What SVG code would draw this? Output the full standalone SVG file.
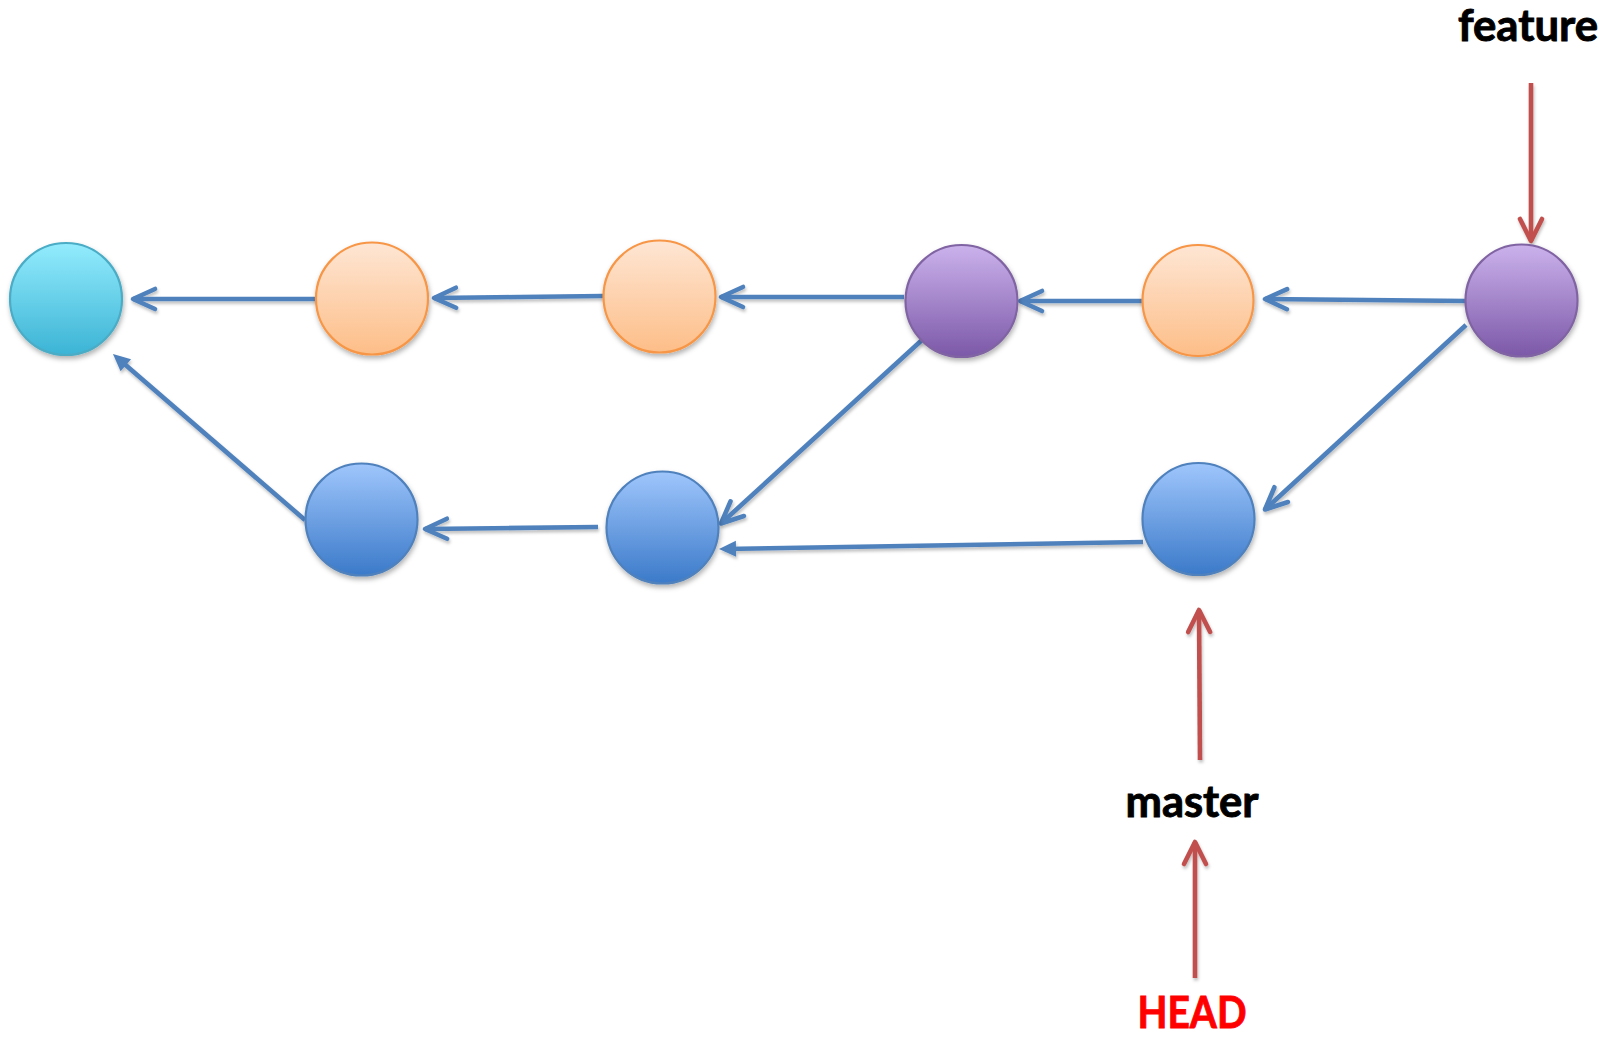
<svg xmlns="http://www.w3.org/2000/svg" width="1615" height="1037" viewBox="0 0 1615 1037">
  <style>
    .node { stroke-width: 2.2; filter: url(#shadow); }
    .cyan { fill: url(#gCyan); stroke: #4BACC6; }
    .orange { fill: url(#gOrange); stroke: #F79646; }
    .purple { fill: url(#gPurple); stroke: #8064A2; }
    .blue { fill: url(#gBlue); stroke: #4F81BD; }
    .edge { fill: none; stroke: #4F81BD; stroke-width: 4.6; stroke-linecap: butt; }
    .open { marker-end: url(#openBlue); }
    .solid { marker-end: url(#solidBlue); }
    .ref { fill: none; stroke: #C0504D; stroke-width: 4.6; marker-end: url(#openRed); }
    .label { font-family: Lato, "Open Sans", "Liberation Sans", sans-serif; font-weight: 700; font-size: 44px; text-anchor: middle; stroke-width: 0.9; }
  </style>
  <defs>
    <filter id="shadow" x="-30%" y="-30%" width="160%" height="170%">
      <feDropShadow dx="1" dy="3" stdDeviation="2.5" flood-color="#000" flood-opacity="0.3"/>
    </filter>
    <filter id="lshadow" x="-10%" y="-10%" width="120%" height="120%">
      <feDropShadow dx="1" dy="2.5" stdDeviation="1.8" flood-color="#000" flood-opacity="0.25"/>
    </filter>
    <linearGradient id="gCyan" x1="0" y1="0" x2="0" y2="1">
      <stop offset="0" stop-color="#93ECFD"/>
      <stop offset="1" stop-color="#3CB4D5"/>
    </linearGradient>
    <linearGradient id="gOrange" x1="0" y1="0" x2="0" y2="1">
      <stop offset="0" stop-color="#FEE6D4"/>
      <stop offset="1" stop-color="#FDBE88"/>
    </linearGradient>
    <linearGradient id="gPurple" x1="0" y1="0" x2="0" y2="1">
      <stop offset="0" stop-color="#CBB2EC"/>
      <stop offset="1" stop-color="#7C58A8"/>
    </linearGradient>
    <linearGradient id="gBlue" x1="0" y1="0" x2="0" y2="1">
      <stop offset="0" stop-color="#9FC6FC"/>
      <stop offset="1" stop-color="#3B7AC9"/>
    </linearGradient>
    <marker id="openBlue" markerUnits="userSpaceOnUse" orient="auto" overflow="visible" markerWidth="1" markerHeight="1" refX="0" refY="0">
      <path d="M-22,-10 L0,0 L-22,10" fill="none" stroke="#4F81BD" stroke-width="4.6" stroke-linecap="round" stroke-linejoin="round"/>
    </marker>
    <marker id="openRed" markerUnits="userSpaceOnUse" orient="auto" overflow="visible" markerWidth="1" markerHeight="1" refX="0" refY="0">
      <path d="M-22,-11 L0,0 L-22,11" fill="none" stroke="#C0504D" stroke-width="4.6" stroke-linecap="round" stroke-linejoin="round"/>
    </marker>
    <marker id="solidBlue" markerUnits="userSpaceOnUse" orient="auto" overflow="visible" markerWidth="1" markerHeight="1" refX="0" refY="0">
      <path d="M-11,-8 L6,0 L-11,8 Z" fill="#4F81BD"/>
    </marker>
  </defs>

  <g id="connectors" filter="url(#lshadow)">
    <line class="edge open" x1="316" y1="299" x2="133" y2="299"/>
    <line class="edge open" x1="603" y1="296" x2="434" y2="298"/>
    <line class="edge open" x1="904" y1="297" x2="721" y2="297"/>
    <line class="edge open" x1="1142" y1="301" x2="1020" y2="301"/>
    <line class="edge open" x1="1467" y1="301" x2="1265" y2="299"/>
    <line class="edge solid" x1="305" y1="520" x2="117.5" y2="358"/>
    <line class="edge open" x1="922" y1="340" x2="721" y2="523.5"/>
    <line class="edge open" x1="1466" y1="325" x2="1265" y2="509.5"/>
    <line class="edge solid" x1="1143" y1="542" x2="725" y2="549"/>
    <line class="edge open" x1="598" y1="527" x2="425" y2="529"/>
    <line class="ref" x1="1531" y1="83" x2="1531" y2="241"/>
    <line class="ref" x1="1200" y1="760" x2="1199" y2="610"/>
    <line class="ref" x1="1195" y1="978" x2="1195" y2="842"/>
  </g>

  <g id="c0"><circle class="node cyan" cx="66" cy="299" r="56"/></g>
  <g id="o1"><circle class="node orange" cx="372" cy="298.5" r="56"/></g>
  <g id="o2"><circle class="node orange" cx="659.5" cy="296.5" r="56"/></g>
  <g id="p1"><circle class="node purple" cx="961.5" cy="301" r="56"/></g>
  <g id="o3"><circle class="node orange" cx="1198" cy="300.5" r="55.5"/></g>
  <g id="p2"><circle class="node purple" cx="1521.5" cy="300.5" r="56"/></g>
  <g id="b1"><circle class="node blue" cx="361.5" cy="519.5" r="56"/></g>
  <g id="b2"><circle class="node blue" cx="662.5" cy="527.5" r="56"/></g>
  <g id="b3"><circle class="node blue" cx="1198.5" cy="519" r="56"/></g>

  <g id="feature"><text class="label" x="1528" y="41" fill="#000" stroke="#000" textLength="140" lengthAdjust="spacingAndGlyphs">feature</text></g>
  <g id="master"><text class="label" x="1192" y="817" fill="#000" stroke="#000" textLength="133" lengthAdjust="spacingAndGlyphs">master</text></g>
  <g id="head"><text class="label" x="1192" y="1028" fill="#FF0000" stroke="#FF0000" textLength="109" lengthAdjust="spacingAndGlyphs">HEAD</text></g>
</svg>
